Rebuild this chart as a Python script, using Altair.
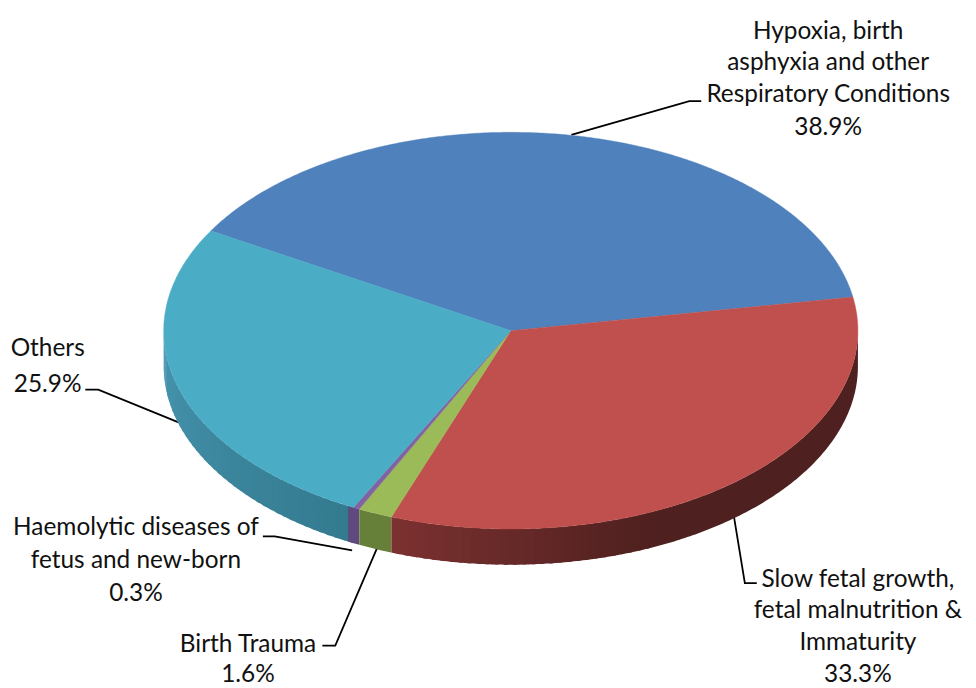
import math
import altair as alt

# --- data ---
slices = ["Hypoxia", "Slow growth", "Birth Trauma", "Haemolytic", "Others"]
percent = [38.9, 33.3, 1.6, 0.3, 25.9]
top_colors = ["#4f81bd", "#c0504d", "#9bbb59", "#8064a2", "#4bacc6"]
# side shading, from the rim's right end to its left end: (fraction, colour)
side_stops = [
    [(0, "#2f4d71"), (1, "#2f4d71")],
    [(0, "#4e201f"), (0.60, "#4e201f"), (1, "#7b3130")],
    [(0, "#66803a"), (1, "#66803a")],
    [(0, "#5f4a80"), (1, "#5f4a80")],
    [(0, "#337a8e"), (1, "#4795b0")],
]
rim_pad = [0, 0, 0, 1.0, 0]

label_lines = [
    ("Hypoxia, birth", 835, 29), ("asphyxia and other", 835, 61),
    ("Respiratory Conditions", 835, 93), ("38.9%", 835, 126),
    ("Others", 48, 349), ("25.9%", 48, 385),
    ("Haemolytic diseases of", 137, 530), ("fetus and new-born", 137, 563), ("0.3%", 137, 596),
    ("Birth Trauma", 250, 648), ("1.6%", 250, 678),
    ("Slow fetal growth,", 865, 582), ("fetal malnutrition &", 865, 613),
    ("Immaturity", 865, 646), ("33.3%", 865, 678),
]
leaders = [
    [(576, 133), (695, 99), (707, 99)],
    [(180, 423), (99, 390), (86, 390)],
    [(355, 552), (277, 538), (265, 538)],
    [(380, 550), (338, 648), (325, 648)],
    [(740, 518), (751, 585), (763, 585)],
]

# --- layout of the tilted disc ---
CX, CY, RX, RY, DEPTH = 515, 330.5, 350, 200, 36
START = 149.8


def pt(deg, dy=0):
    a = math.radians(deg)
    return [CX + RX * math.cos(a), CY - RY * math.sin(a) + dy]


def arc(a0, a1, dy=0, step=0.5):
    n = max(2, int(abs(a1 - a0) / step) + 1)
    return [pt(a0 + (a1 - a0) * i / (n - 1), dy) for i in range(n)]


def feature(kind, coords, fill):
    return {"type": "Feature", "properties": {"fill": fill},
            "geometry": {"type": kind, "coordinates": coords}}


def mix(stops, t):
    for (t0, c0), (t1, c1) in zip(stops, stops[1:]):
        if t <= t1:
            f = (t - t0) / (t1 - t0) if t1 > t0 else 0
            rgb = [round(int(c0[i:i + 2], 16) * (1 - f) + int(c1[i:i + 2], 16) * f)
                   for i in (1, 3, 5)]
            return "#%02x%02x%02x" % tuple(rgb)
    return stops[-1][1]


tops, side_groups = [], []
angle = START
for value, color, stops, pad in zip(percent, top_colors, side_stops, rim_pad):
    a0 = angle
    a1 = angle - value * 3.6
    angle = a1
    ring = [[CX, CY]] + arc(a0, a1) + [[CX, CY]]
    tops.append(feature("Polygon", [ring], color))
    # front part of the rim only (-180..0 degrees)
    lo = a0 if a0 <= 0 else 0
    hi = a1 - pad if a1 - pad >= -180 else -180
    group = []
    if lo > hi:
        bands = max(1, int((lo - hi) / 1.5))
        runs = []
        for b in range(bands):
            c = mix(stops, (b + 0.5) / bands)
            s0 = lo - (lo - hi) * b / bands
            s1 = lo - (lo - hi) * (b + 1) / bands
            if runs and runs[-1][2] == c:
                runs[-1][1] = s1
            else:
                runs.append([s0, s1, c])
        for i, (s0, s1, c) in enumerate(runs):
            # each band runs slightly under the next so that no seam shows
            s1x = s1 - 0.6 if i < len(runs) - 1 else s1
            poly = arc(s0, s1x) + arc(s1x, s0, DEPTH)
            poly.append(poly[0])
            group.append(feature("Polygon", [poly], c))
    side_groups.append(group)

sides = [f for group in reversed(side_groups) for f in group]
leader_features = [feature("LineString", [list(p) for p in l], "none") for l in leaders]
text_rows = [{"t": t, "lon": x, "lat": y} for t, x, y in label_lines]

side_layer = alt.Chart(alt.Data(values=sides)).mark_geoshape(
    strokeWidth=0, opacity=1, fillOpacity=1
).encode(
    fill=alt.Fill("properties.fill:N", scale=None),
)
top_layer = alt.Chart(alt.Data(values=tops)).mark_geoshape(
    strokeWidth=0.4, opacity=1, fillOpacity=1, strokeOpacity=1
).encode(
    fill=alt.Fill("properties.fill:N", scale=None),
    stroke=alt.Stroke("properties.fill:N", scale=None),
)
leader_layer = alt.Chart(alt.Data(values=leader_features)).mark_geoshape(
    filled=False, stroke="#000000", strokeWidth=1.8, opacity=1
)
text_layer = alt.Chart(alt.Data(values=text_rows)).mark_text(
    font="Lato", fontSize=24.6, color="#111111", align="center", baseline="middle"
).encode(
    longitude="lon:Q", latitude="lat:Q", text="t:N"
)

chart = (
    alt.layer(leader_layer, side_layer, top_layer, text_layer)
    .project(type="identity", scale=1, translate=[-8, -8])
    .properties(width=968, height=680, padding=0, autosize=alt.AutoSizeParams(type="none"))
    .configure_view(stroke=None)
)
chart.save("out.html", embed_options={"renderer": "svg", "actions": False})
